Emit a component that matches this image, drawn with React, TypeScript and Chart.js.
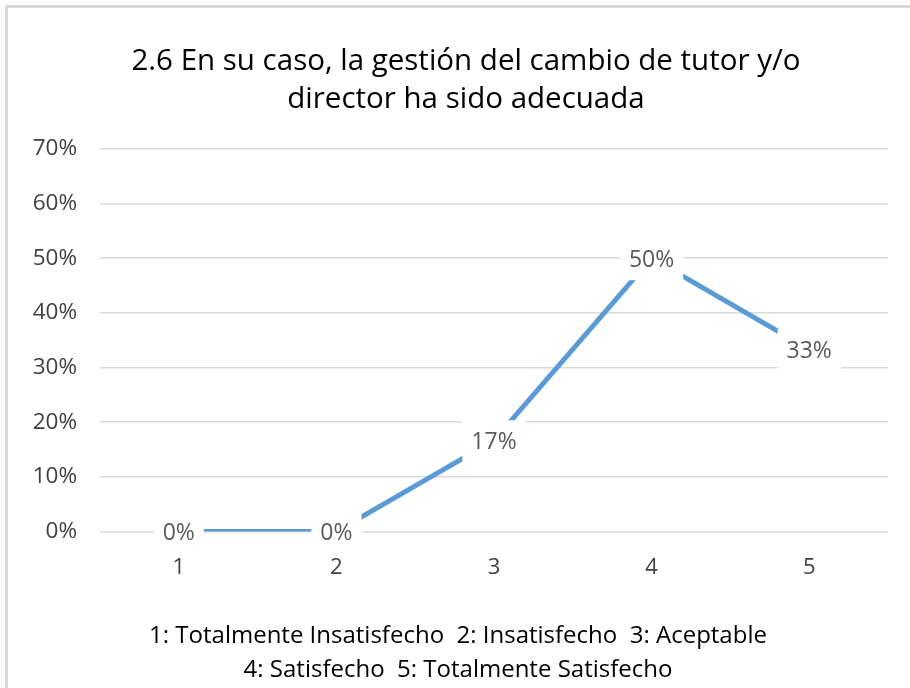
import React, { useEffect, useRef } from "react";
import { Chart, registerables } from "chart.js";

Chart.register(...registerables);

const categories = ["1", "2", "3", "4", "5"];
const values = [0, 0, 16.67, 50, 33.33];
const titleLines = ["2.6 En su caso, la gestión del cambio de tutor y/o", "director ha sido adecuada"];
const legendLines = [
  "1: Totalmente Insatisfecho  2: Insatisfecho  3: Aceptable",
  "4: Satisfecho  5: Totalmente Satisfecho",
];
const yMax = 70;
const yStep = 10;

const FONT = "'Open Sans', 'Noto Sans', sans-serif";

const frame = {
  id: "frame",
  beforeDraw(chart: any) {
    const { ctx, width, height } = chart;
    ctx.save();
    ctx.fillStyle = "#ffffff";
    ctx.fillRect(0, 0, width, height);
    ctx.strokeStyle = "#d9d9d9";
    ctx.lineWidth = 3;
    ctx.strokeRect(6.5, 6.5, width + 20, height + 20);
    ctx.restore();
  },
};

// shift the centred title / bottom text to the chart frame's centre
const centreShift = {
  id: "centreShift",
  afterLayout(chart: any) {
    chart.boxes.forEach((b: any) => {
      if (!b.options || b.options.text === undefined) return;
      if (b.options.position === "top") b.left += 44;
      if (b.options.position === "bottom") b.left += 28;
    });
  },
};

const dataLabels = {
  id: "dataLabels",
  afterDatasetsDraw(chart: any) {
    const { ctx } = chart;
    const meta = chart.getDatasetMeta(0);
    const ds = chart.data.datasets[0];
    ctx.save();
    ctx.font = `23px ${FONT}`;
    ctx.textAlign = "center";
    ctx.textBaseline = "middle";
    meta.data.forEach((pt: any, i: number) => {
      const text = Math.round(ds.data[i]) + "%";
      const w = ctx.measureText(text).width;
      const bw = w + 18;
      const bh = 42;
      ctx.fillStyle = "#ffffff";
      ctx.fillRect(pt.x - bw / 2, pt.y - bh / 2 + 1, bw, bh);
      ctx.fillStyle = "#595959";
      ctx.fillText(text, pt.x, pt.y + 2);
    });
    ctx.restore();
  },
};

export default function App() {
  const ref = useRef<HTMLCanvasElement>(null);
  useEffect(() => {
    document.body.style.margin = "0";
    const chart = new Chart(ref.current!, {
      type: "line",
      data: {
        labels: categories,
        datasets: [
          {
            data: values,
            borderColor: "#5B9BD5",
            borderWidth: 5,
            pointRadius: 0,
            tension: 0,
            fill: false,
          },
        ],
      },
      options: {
        animation: false,
        responsive: false,
        devicePixelRatio: 1,
        layout: { padding: { left: 0, right: 22, top: 0, bottom: 1 } },
        plugins: {
          legend: { display: false },
          tooltip: { enabled: false },
          title: {
            display: true,
            text: titleLines,
            color: "#000000",
            font: { family: FONT, size: 29.5, weight: "normal", lineHeight: 1.27 },
            padding: { top: 43, bottom: 31 },
          },
          subtitle: {
            display: true,
            position: "bottom",
            text: legendLines,
            color: "#000000",
            font: { family: FONT, size: 24, weight: "normal", lineHeight: 1.4 },
            padding: { top: 16, bottom: 0 },
          },
        },
        scales: {
          x: {
            offset: true,
            grid: { display: false, drawTicks: false },
            border: { display: false },
            ticks: { color: "#404040", font: { family: FONT, size: 22 }, padding: 23 },
          },
          y: {
            min: 0,
            max: yMax,
            grid: { color: "#d9d9d9", lineWidth: 1.5, drawTicks: false },
            border: { display: false },
            afterFit: (s: any) => {
              s.width = 100;
            },
            ticks: {
              stepSize: yStep,
              color: "#404040",
              font: { family: FONT, size: 22.5 },
              padding: 23,
              callback: (v: any) => v + "%",
            },
          },
        },
      },
      plugins: [frame, centreShift, dataLabels],
    });
    return () => chart.destroy();
  }, []);
  return (
    <div style={{ width: 910, height: 688 }}>
      <canvas ref={ref} width={910} height={688} style={{ display: "block" }} />
    </div>
  );
}
